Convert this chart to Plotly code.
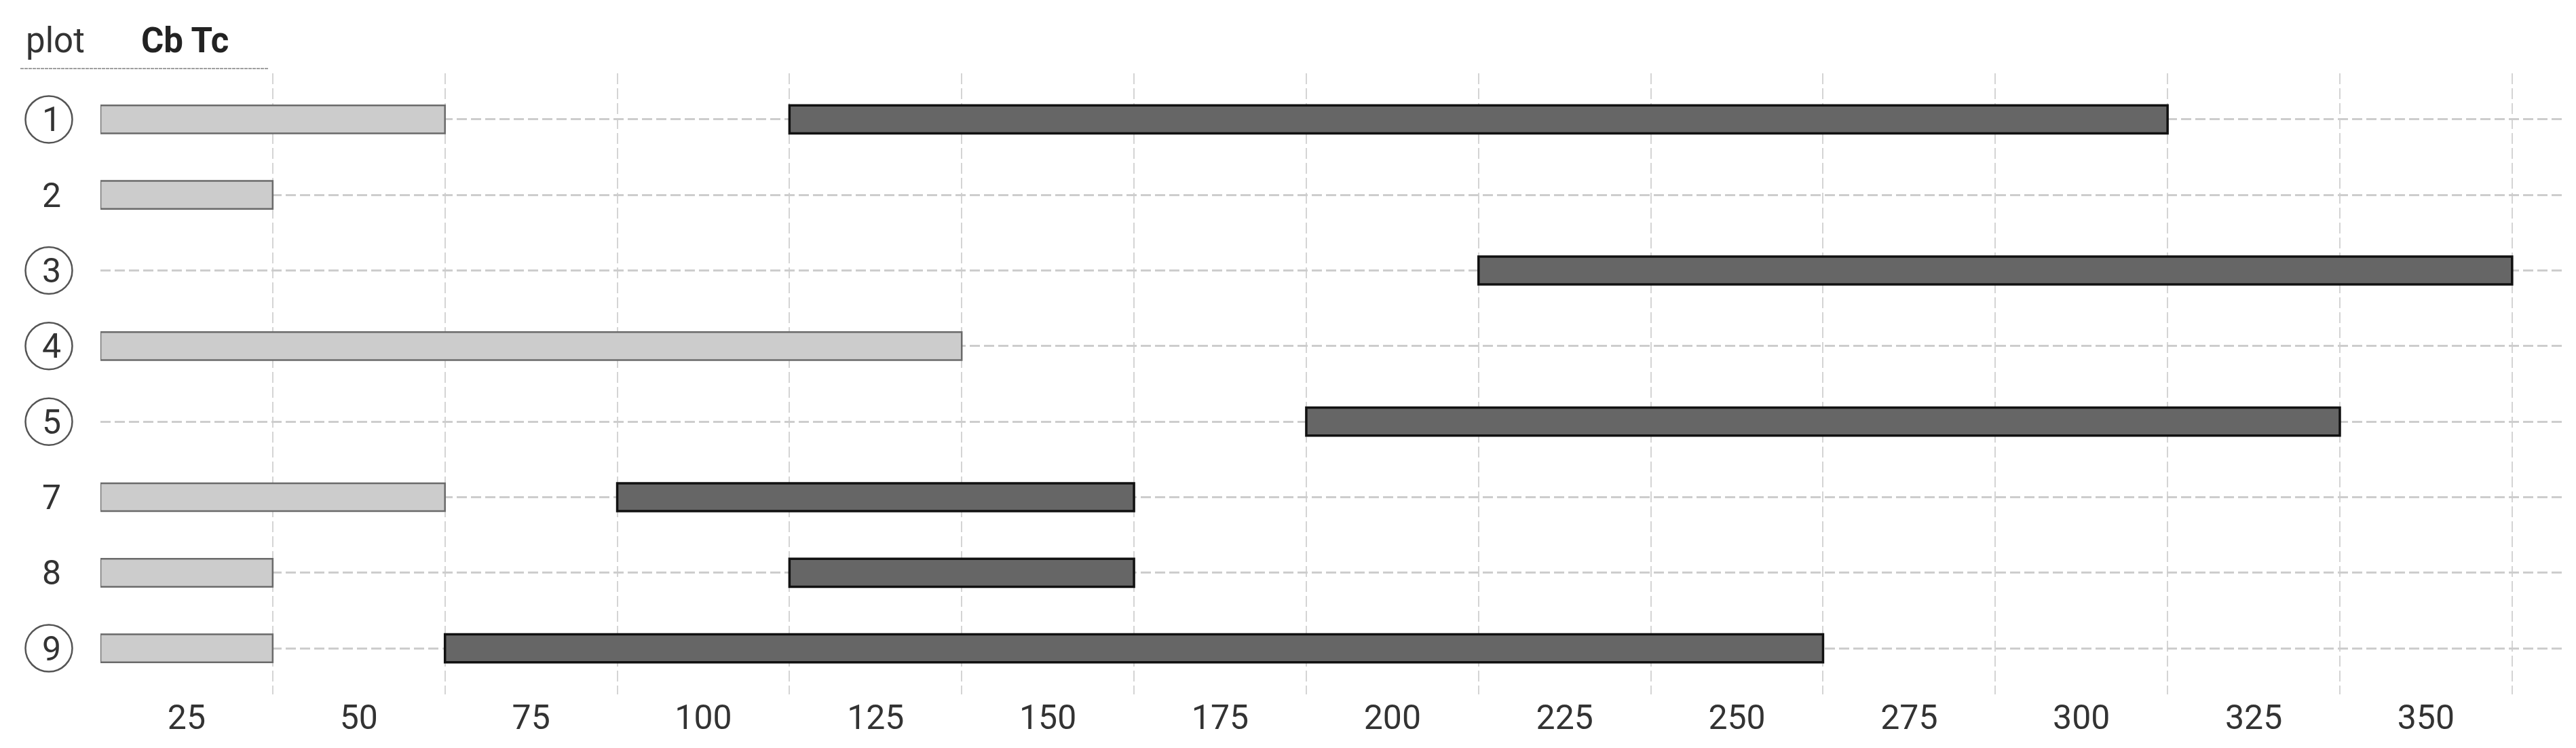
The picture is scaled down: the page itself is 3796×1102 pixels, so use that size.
import plotly.graph_objects as go

# ---- data ----
plots = ["1", "2", "3", "4", "5", "7", "8", "9"]
circled = [True, False, True, True, True, False, False, True]
cb_start = [12.5, 12.5, None, 12.5, None, 12.5, 12.5, 12.5]
cb_end = [62.5, 37.5, None, 137.5, None, 62.5, 37.5, 37.5]
tc_start = [112.5, None, 212.5, None, 187.5, 87.5, 112.5, 62.5]
tc_end = [312.5, None, 362.5, None, 337.5, 162.5, 162.5, 262.5]
x_ticks = [25, 50, 75, 100, 125, 150, 175, 200, 225, 250, 275, 300, 325, 350]
x_bounds = [37.5, 62.5, 87.5, 112.5, 137.5, 162.5, 187.5, 212.5, 237.5,
            262.5, 287.5, 312.5, 337.5, 362.5]

W, H = 3796, 1102
ML, MR, MT, MB = 140, 26, 100, 87
PW = W - ML - MR
PH = H - MT - MB
FONT = "Roboto"
TXT = "#333333"

rows = list(range(len(plots)))

def series(starts, ends):
    ys, bs, ls = [], [], []
    for i, s, e in zip(rows, starts, ends):
        if s is None:
            continue
        ys.append(i)
        bs.append(s)
        ls.append(e - s)
    return ys, bs, ls

fig = go.Figure()
y1, b1, l1 = series(cb_start, cb_end)
fig.add_trace(go.Bar(orientation="h", y=y1, x=l1, base=b1, width=0.37,
                     name="Cb", marker=dict(color="#cccccc",
                                            line=dict(color="#6a6a6a", width=2.5))))
y2, b2, l2 = series(tc_start, tc_end)
fig.add_trace(go.Bar(orientation="h", y=y2, x=l2, base=b2, width=0.37,
                     name="Tc", marker=dict(color="#666666",
                                            line=dict(color="#111111", width=3.5))))

def px_to_paper_x(px):
    return (px - ML) / PW

def px_to_paper_y(py):
    return (H - MB - py) / PH

shapes = []
for i, c in zip(rows, circled):
    if c:
        shapes.append(dict(type="circle", xref="paper", yref="y",
                           xsizemode="pixel", ysizemode="pixel",
                           xanchor=px_to_paper_x(64), yanchor=i,
                           x0=-34.5, x1=34.5, y0=-34.5, y1=34.5,
                           line=dict(color="#555555", width=2.5)))
shapes.append(dict(type="line", xref="paper", yref="paper",
                   x0=px_to_paper_x(22), x1=px_to_paper_x(388),
                   y0=px_to_paper_y(93), y1=px_to_paper_y(93),
                   line=dict(color="#a0a0a0", width=2, dash="5px,1px")))

annotations = [
    dict(text="plot", xref="paper", yref="paper", x=px_to_paper_x(73),
         y=px_to_paper_y(52), xanchor="center", yanchor="middle",
         showarrow=False, font=dict(family=FONT, size=51, color=TXT)),
    dict(text="<b>Cb Tc</b>", xref="paper", yref="paper", x=px_to_paper_x(264),
         y=px_to_paper_y(51), xanchor="center", yanchor="middle",
         showarrow=False, font=dict(family=FONT, size=51, color="#222222")),
]

fig.update_layout(
    width=W, height=H,
    margin=dict(l=ML, r=MR, t=MT, b=MB),
    paper_bgcolor="white", plot_bgcolor="white",
    barmode="overlay", showlegend=False,
    shapes=shapes, annotations=annotations,
    font=dict(family=FONT, size=50, color=TXT),
    xaxis=dict(range=[12.5, 370], tickvals=x_ticks, showgrid=False,
               zeroline=False, showline=False, ticks="",
               tickfont=dict(family=FONT, size=50, color=TXT),
               minor=dict(tickvals=x_bounds, showgrid=True, gridcolor="#d4d4d4",
                          gridwidth=2, griddash="16px,6px", ticks="")),
    yaxis=dict(range=[7.61, -0.61], tickvals=rows, ticktext=plots,
               showgrid=True, gridcolor="#cdcdcd", gridwidth=3,
               griddash="15px,6px", zeroline=False, showline=False, ticks="",
               ticklabelstandoff=57,
               tickfont=dict(family=FONT, size=50, color=TXT)),
)

fig.write_html("out.html")
